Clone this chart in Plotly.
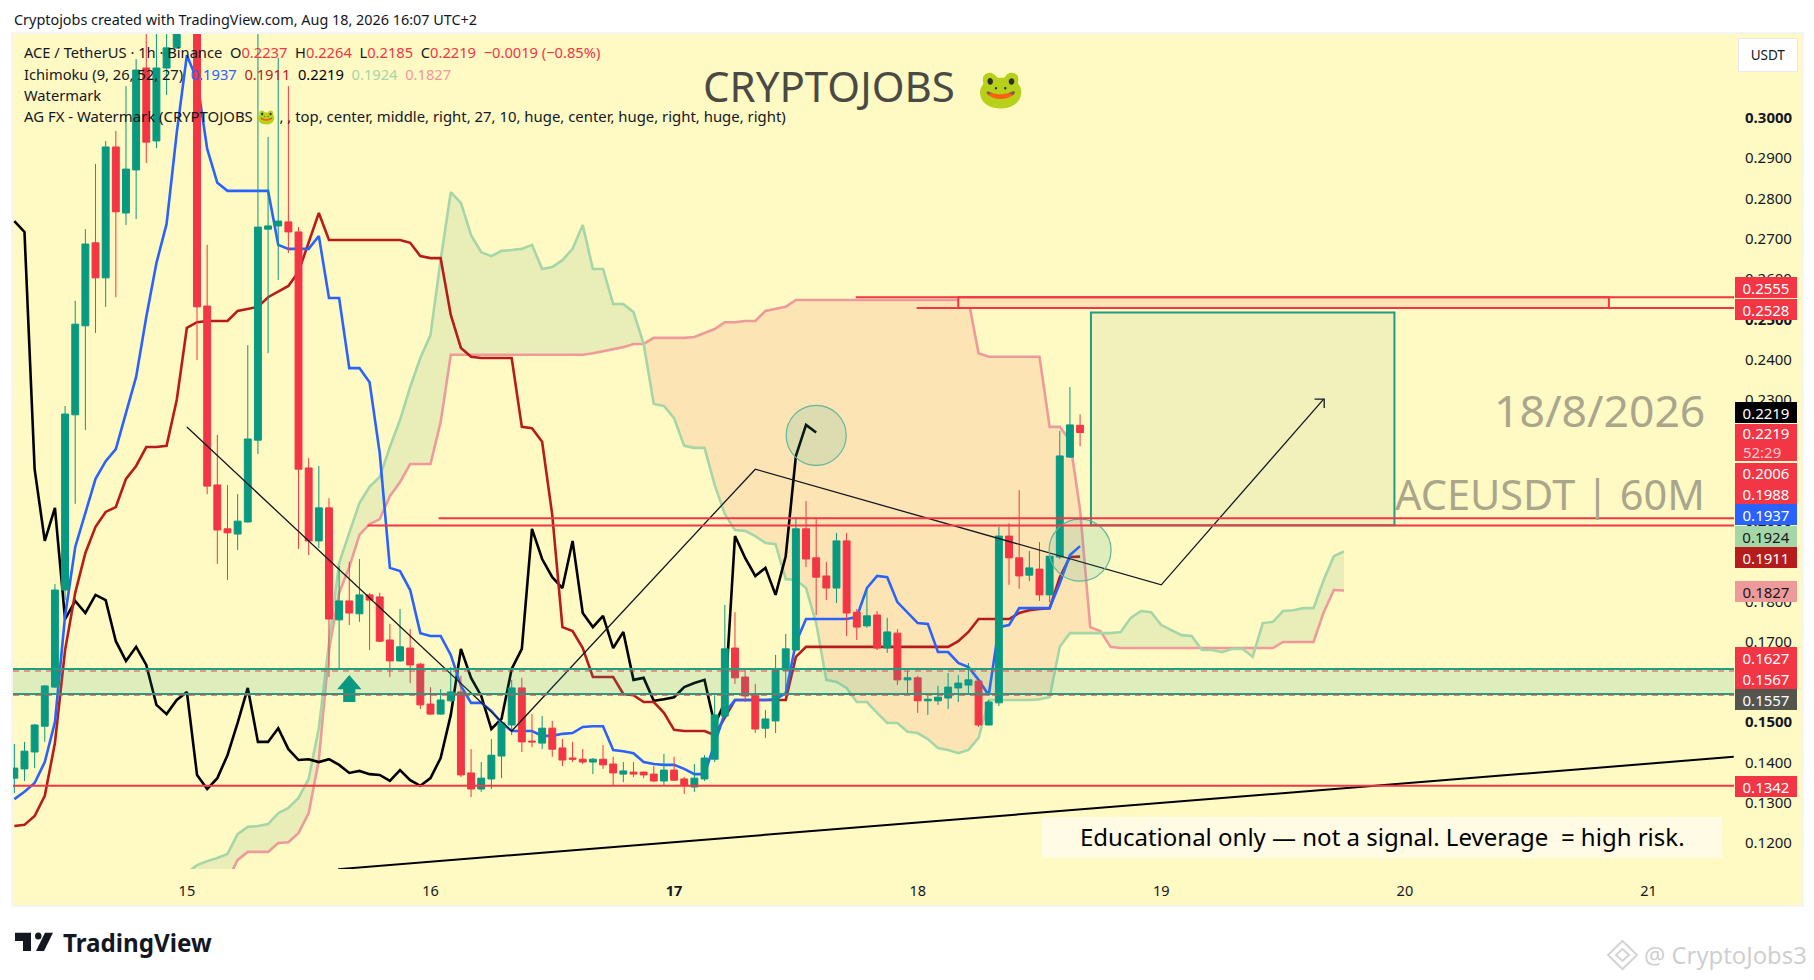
import plotly.graph_objects as go

W, H = 1814, 980

day_ticks = [17, 41, 65, 89, 113, 137, 161]
day_labels = ['15', '16', '<b>17</b>', '18', '19', '20', '21']
price_ticks = [0.12, 0.13, 0.14, 0.15, 0.16, 0.17, 0.18, 0.19, 0.20, 0.21, 0.22, 0.23, 0.24, 0.25, 0.26, 0.27, 0.28, 0.29, 0.30]
price_labels = ['0.1200', '0.1300', '0.1400', '<b>0.1500</b>', '0.1600', '0.1700', '0.1800', '0.1900', '<b>0.2000</b>', '0.2100',
                '0.2200', '0.2300', '0.2400', '<b>0.2500</b>', '0.2600', '0.2700', '0.2800', '0.2900', '<b>0.3000</b>']

opens = [0.1361, 0.1384, 0.1426, 0.1490, 0.1587, 0.1828, 0.2263, 0.2484, 0.2690, 0.2603, 0.2928, 0.2764, 0.2871, 0.3124, 0.2943, 0.3124,
         0.3174, 0.3231, 0.3330, 0.2533, 0.2089, 0.1980, 0.1967, 0.1997, 0.2200, 0.2724, 0.2732, 0.2742, 0.2717, 0.2131, 0.1950, 0.2032,
         0.1754, 0.1801, 0.1769, 0.1816, 0.1811, 0.1704, 0.1652, 0.1684, 0.1644, 0.1545, 0.1520, 0.1553, 0.1575, 0.1374, 0.1334, 0.1359,
         0.1416, 0.1493, 0.1585, 0.1453, 0.1448, 0.1485, 0.1436, 0.1411, 0.1408, 0.1401, 0.1408, 0.1396, 0.1371, 0.1376, 0.1376, 0.1371,
         0.1354, 0.1381, 0.1359, 0.1339, 0.1359, 0.1408, 0.1515, 0.1684, 0.1612, 0.1567, 0.1485, 0.1503, 0.1629, 0.1679, 0.1980, 0.1908,
         0.1863, 0.1833, 0.1950, 0.1773, 0.1739, 0.1766, 0.1684, 0.1721, 0.1605, 0.1610, 0.1553, 0.1553, 0.1560, 0.1585, 0.1592, 0.1602,
         0.1493, 0.1548, 0.1962, 0.1908, 0.1865, 0.1880, 0.1816, 0.1910, 0.2158, 0.2237]
highs = [0.1446, 0.1451, 0.1495, 0.1592, 0.1843, 0.2285, 0.2546, 0.2724, 0.2886, 0.2943, 0.2968, 0.3079, 0.3146, 0.3243, 0.3240, 0.3250,
         0.3260, 0.3360, 0.3350, 0.2685, 0.2213, 0.2089, 0.2066, 0.2436, 0.3300, 0.2953, 0.3149, 0.3079, 0.2729, 0.2156, 0.2136, 0.2056,
         0.1888, 0.1898, 0.1905, 0.1821, 0.1821, 0.1744, 0.1781, 0.1731, 0.1647, 0.1587, 0.1582, 0.1637, 0.1615, 0.1433, 0.1401, 0.1458,
         0.1505, 0.1605, 0.1610, 0.1520, 0.1515, 0.1503, 0.1458, 0.1451, 0.1433, 0.1411, 0.1443, 0.1414, 0.1401, 0.1401, 0.1377, 0.1391,
         0.1421, 0.1414, 0.1364, 0.1396, 0.1418, 0.1567, 0.1791, 0.1773, 0.1629, 0.1595, 0.1530, 0.1667, 0.1719, 0.2009, 0.2049, 0.2004,
         0.1898, 0.1970, 0.1970, 0.1781, 0.1828, 0.1776, 0.1759, 0.1731, 0.1627, 0.1615, 0.1565, 0.1590, 0.1622, 0.1617, 0.1647, 0.1603,
         0.1555, 0.1985, 0.1994, 0.2076, 0.1925, 0.1947, 0.1915, 0.2223, 0.2332, 0.2264]
lows = [0.1324, 0.1354, 0.1386, 0.1451, 0.1585, 0.1803, 0.2042, 0.2225, 0.2466, 0.2531, 0.2555, 0.2734, 0.2749, 0.2888, 0.2925, 0.3057,
        0.3172, 0.3225, 0.2399, 0.2066, 0.1893, 0.1853, 0.1927, 0.1996, 0.2166, 0.2416, 0.2598, 0.2665, 0.1930, 0.1915, 0.1932, 0.1612,
        0.1634, 0.1741, 0.1749, 0.1679, 0.1699, 0.1612, 0.1650, 0.1597, 0.1533, 0.1518, 0.1518, 0.1551, 0.1364, 0.1314, 0.1327, 0.1334,
        0.1361, 0.1468, 0.1426, 0.1438, 0.1433, 0.1414, 0.1391, 0.1401, 0.1396, 0.1371, 0.1384, 0.1344, 0.1351, 0.1364, 0.1361, 0.1351,
        0.1344, 0.1354, 0.1322, 0.1327, 0.1354, 0.1401, 0.1510, 0.1595, 0.1550, 0.1473, 0.1461, 0.1473, 0.1577, 0.1677, 0.1885, 0.1766,
        0.1803, 0.1796, 0.1714, 0.1704, 0.1734, 0.1679, 0.1672, 0.1592, 0.1567, 0.1523, 0.1518, 0.1543, 0.1533, 0.1550, 0.1570, 0.1488,
        0.1492, 0.1540, 0.1841, 0.1831, 0.1850, 0.1801, 0.1798, 0.1905, 0.2156, 0.2185]
closes = [0.1386, 0.1428, 0.1493, 0.1590, 0.1828, 0.2265, 0.2488, 0.2687, 0.2603, 0.2928, 0.2767, 0.2873, 0.3119, 0.2940, 0.3124, 0.3174,
          0.3231, 0.3330, 0.2531, 0.2086, 0.1977, 0.1970, 0.1999, 0.2203, 0.2729, 0.2732, 0.2744, 0.2717, 0.2128, 0.1950, 0.2032, 0.1756,
          0.1801, 0.1771, 0.1816, 0.1803, 0.1701, 0.1652, 0.1687, 0.1642, 0.1543, 0.1520, 0.1555, 0.1575, 0.1369, 0.1334, 0.1361, 0.1418,
          0.1498, 0.1585, 0.1451, 0.1451, 0.1485, 0.1433, 0.1406, 0.1408, 0.1401, 0.1408, 0.1394, 0.1374, 0.1379, 0.1371, 0.1369, 0.1354,
          0.1381, 0.1356, 0.1342, 0.1361, 0.1411, 0.1518, 0.1682, 0.1610, 0.1565, 0.1483, 0.1508, 0.1632, 0.1682, 0.1980, 0.1905, 0.1860,
          0.1833, 0.1950, 0.1771, 0.1736, 0.1764, 0.1684, 0.1724, 0.1605, 0.1610, 0.1553, 0.1557, 0.1562, 0.1587, 0.1597, 0.1605, 0.1493,
          0.1550, 0.1962, 0.1908, 0.1863, 0.1883, 0.1816, 0.1912, 0.2161, 0.2238, 0.2219]

conversion = [0.1309, 0.1327, 0.1349, 0.1401, 0.1500, 0.1764, 0.1935, 0.2019, 0.2104, 0.2148, 0.2178, 0.2268, 0.2357, 0.2506, 0.2640, 0.2737,
              0.2963, 0.3156, 0.3094, 0.2923, 0.2839, 0.2819, 0.2819, 0.2819, 0.2819, 0.2819, 0.2685, 0.2675, 0.2675, 0.2675, 0.2707, 0.2553,
              0.2553, 0.2379, 0.2379, 0.2344, 0.2168, 0.1883, 0.1875, 0.1828, 0.1721, 0.1714, 0.1714, 0.1667, 0.1590, 0.1548, 0.1548, 0.1528,
              0.1498, 0.1478, 0.1478, 0.1478, 0.1466, 0.1466, 0.1471, 0.1473, 0.1488, 0.1490, 0.1490, 0.1431, 0.1428, 0.1423, 0.1401, 0.1396,
              0.1394, 0.1394, 0.1384, 0.1371, 0.1371, 0.1448, 0.1523, 0.1555, 0.1555, 0.1555, 0.1555, 0.1557, 0.1572, 0.1697, 0.1756, 0.1756,
              0.1756, 0.1756, 0.1756, 0.1761, 0.1833, 0.1863, 0.1860, 0.1798, 0.1771, 0.1746, 0.1744, 0.1674, 0.1674, 0.1647, 0.1637, 0.1605,
              0.1567, 0.1736, 0.1741, 0.1783, 0.1783, 0.1783, 0.1783, 0.1845, 0.1915, 0.1937]
base = [0.1242, 0.1245, 0.1267, 0.1317, 0.1448, 0.1679, 0.1821, 0.1920, 0.1985, 0.2022, 0.2034, 0.2104, 0.2136, 0.2183, 0.2183, 0.2186,
        0.2300, 0.2479, 0.2493, 0.2496, 0.2496, 0.2496, 0.2521, 0.2526, 0.2531, 0.2555, 0.2568, 0.2583, 0.2618, 0.2690, 0.2764, 0.2697,
        0.2697, 0.2697, 0.2697, 0.2697, 0.2697, 0.2697, 0.2697, 0.2690, 0.2657, 0.2652, 0.2652, 0.2511, 0.2429, 0.2407, 0.2404, 0.2404,
        0.2404, 0.2404, 0.2233, 0.2230, 0.2196, 0.2014, 0.1736, 0.1726, 0.1684, 0.1612, 0.1612, 0.1612, 0.1570, 0.1567, 0.1550, 0.1550,
        0.1523, 0.1481, 0.1478, 0.1478, 0.1478, 0.1468, 0.1513, 0.1555, 0.1555, 0.1555, 0.1555, 0.1555, 0.1555, 0.1662, 0.1687, 0.1687,
        0.1687, 0.1687, 0.1687, 0.1687, 0.1687, 0.1687, 0.1687, 0.1687, 0.1687, 0.1687, 0.1687, 0.1687, 0.1687, 0.1701, 0.1724, 0.1756,
        0.1756, 0.1756, 0.1756, 0.1771, 0.1778, 0.1781, 0.1783, 0.1860, 0.1910, 0.1911]
lagging = closes[26:]

cloud_start = 17
span_a = [0.1126, 0.1145, 0.1155, 0.1163, 0.1173, 0.1222, 0.1240, 0.1242, 0.1247, 0.1274, 0.1287, 0.1312, 0.1359, 0.1485, 0.1697, 0.1895,
          0.1970, 0.2044, 0.2084, 0.2109, 0.2183, 0.2250, 0.2332, 0.2404, 0.2461, 0.2647, 0.2816, 0.2789, 0.2709, 0.2667, 0.2657, 0.2670,
          0.2672, 0.2675, 0.2685, 0.2625, 0.2630, 0.2647, 0.2675, 0.2734, 0.2625, 0.2625, 0.2538, 0.2538, 0.2518, 0.2439, 0.2290, 0.2285,
          0.2255, 0.2186, 0.2181, 0.2181, 0.2089, 0.2017, 0.1977, 0.1975, 0.1962, 0.1945, 0.1942, 0.1855, 0.1853, 0.1833, 0.1746, 0.1605,
          0.1600, 0.1585, 0.1550, 0.1550, 0.1523, 0.1498, 0.1498, 0.1476, 0.1473, 0.1458, 0.1436, 0.1431, 0.1423, 0.1431, 0.1461, 0.1555,
          0.1555, 0.1555, 0.1555, 0.1555, 0.1557, 0.1562, 0.1687, 0.1721, 0.1721, 0.1721, 0.1721, 0.1721, 0.1724, 0.1759, 0.1776, 0.1773,
          0.1741, 0.1729, 0.1716, 0.1714, 0.1679, 0.1679, 0.1674, 0.1682, 0.1682, 0.1662, 0.1746, 0.1749, 0.1776, 0.1778, 0.1783, 0.1783,
          0.1853, 0.1912, 0.1924]
span_b = [0.1100, 0.1100, 0.1100, 0.1100, 0.1108, 0.1158, 0.1178, 0.1178, 0.1178, 0.1200, 0.1202, 0.1225, 0.1274, 0.1406, 0.1679, 0.1821,
          0.1885, 0.1965, 0.1992, 0.2004, 0.2061, 0.2096, 0.2141, 0.2141, 0.2141, 0.2245, 0.2412, 0.2412, 0.2412, 0.2412, 0.2412, 0.2412,
          0.2412, 0.2412, 0.2412, 0.2412, 0.2412, 0.2412, 0.2412, 0.2412, 0.2416, 0.2421, 0.2426, 0.2431, 0.2439, 0.2439, 0.2454, 0.2454,
          0.2454, 0.2454, 0.2456, 0.2466, 0.2476, 0.2493, 0.2493, 0.2496, 0.2496, 0.2521, 0.2526, 0.2531, 0.2548, 0.2548, 0.2548, 0.2548,
          0.2548, 0.2548, 0.2548, 0.2548, 0.2548, 0.2548, 0.2548, 0.2548, 0.2548, 0.2548, 0.2548, 0.2548, 0.2548, 0.2548, 0.2416, 0.2407,
          0.2407, 0.2407, 0.2407, 0.2407, 0.2407, 0.2233, 0.2233, 0.2200, 0.2027, 0.1736, 0.1726, 0.1687, 0.1684, 0.1684, 0.1684, 0.1684,
          0.1684, 0.1684, 0.1684, 0.1684, 0.1684, 0.1684, 0.1684, 0.1684, 0.1684, 0.1684, 0.1684, 0.1684, 0.1699, 0.1699, 0.1699, 0.1699,
          0.1773, 0.1828, 0.1827]

zigzag_bars = [17, 49, 73, 113, 129]
zigzag_prices = [0.2233, 0.1478, 0.2128, 0.1841, 0.2302]
barb_bars = [128.1, 129.05, 129.05]
barb_prices = [0.2302, 0.2302, 0.2280]
trend_bars = [31.9, 169.4]
trend_prices = [0.1135, 0.1414]

label_texts = ['0.2555', '0.2528', '0.2219', '0.2219<br><span style="color:#ffc9cf">52:29&nbsp;&nbsp;</span>', '0.2006', '0.1988',
               '0.1937', '0.1924', '0.1911', '0.1827', '0.1627', '0.1567', '0.1557', '0.1342']
label_colors = ['#f23645', '#f23645', '#000000', '#f23645', '#f23645', '#f23645',
                '#2962ff', '#a5d6a7', '#b71c1c', '#ef9a9a', '#f23645', '#f23645', '#555550', '#f23645']
label_fonts = ['#fff', '#fff', '#fff', '#fff', '#fff', '#fff', '#fff', '#131722', '#fff', '#131722', '#fff', '#fff', '#fff', '#fff']
label_tops = [277, 299, 402, 424, 463, 483.5, 504, 526, 547, 581, 647, 668, 689, 776]
label_heights = [21, 21, 21, 37, 20.5, 20.5, 21, 21, 21, 21, 21, 21, 21, 21]

bars = list(range(len(closes)))
x_left = (13 - 14.33) / 10.15
x_right = (1734 - 14.33) / 10.15
y_low = 0.12 - 26 / 4028
y_high = 0.12 + 809 / 4028


def X(p):
    return p / W


def Y(p):
    return 1 - p / H


def cloud_parts(xs, a, b):
    # split the cloud where the two spans cross so each part gets its own colour
    parts = []
    cx, ca, cb = [xs[0]], [a[0]], [b[0]]
    for k in range(1, len(xs)):
        d0, d1 = a[k - 1] - b[k - 1], a[k] - b[k]
        if (d0 >= 0 > d1) or (d0 <= 0 < d1):
            t = d0 / (d0 - d1)
            mx = xs[k - 1] + t
            my = a[k - 1] + t * (a[k] - a[k - 1])
            parts.append((cx + [mx], ca + [my], cb + [my]))
            cx, ca, cb = [mx], [my], [my]
        cx.append(xs[k])
        ca.append(a[k])
        cb.append(b[k])
    parts.append((cx, ca, cb))
    return parts


fig = go.Figure()

# scatter always paints over candles on one subplot, so the indicator sits on the
# main axes and the candles plus drawings on an overlay pair with the same ranges
cloud_x = [cloud_start + k for k in range(len(span_a))]
for px, pa, pb in cloud_parts(cloud_x, span_a, span_b):
    fig.add_trace(go.Scatter(x=px + px[::-1], y=pa + pb[::-1], mode='none', fill='toself',
                             fillcolor='#e9eeb9' if sum(pa) >= sum(pb) else '#fde4b4', hoverinfo='skip'))

fig.add_trace(go.Scatter(x=cloud_x, y=span_b, mode='lines', line=dict(color='#ef9a9a', width=2.6)))
fig.add_trace(go.Scatter(x=cloud_x, y=span_a, mode='lines', line=dict(color='#a5d6a7', width=2.6)))
fig.add_trace(go.Scatter(x=bars[:len(lagging)], y=lagging, mode='lines', line=dict(color='#000000', width=2.6)))
fig.add_trace(go.Scatter(x=bars, y=base, mode='lines', line=dict(color='#b71c1c', width=2.6)))
fig.add_trace(go.Scatter(x=bars, y=conversion, mode='lines', line=dict(color='#2962ff', width=2.6)))

fig.add_trace(go.Candlestick(x=bars, open=opens, high=highs, low=lows, close=closes, whiskerwidth=0,
                             xaxis='x2', yaxis='y2',
                             increasing=dict(line=dict(color='#089981', width=1), fillcolor='#089981'),
                             decreasing=dict(line=dict(color='#f23645', width=1), fillcolor='#f23645')))

fig.add_trace(go.Scatter(x=zigzag_bars, y=zigzag_prices, mode='lines', xaxis='x2', yaxis='y2', line=dict(color='#131722', width=1.3)))
fig.add_trace(go.Scatter(x=barb_bars, y=barb_prices, mode='lines', xaxis='x2', yaxis='y2', line=dict(color='#131722', width=1.3)))
fig.add_trace(go.Scatter(x=trend_bars, y=trend_prices, mode='lines', xaxis='x2', yaxis='y2', line=dict(color='#000000', width=2)))

shapes = [
    dict(type='rect', xref='paper', yref='paper', x0=X(12), x1=X(1803), y0=Y(33), y1=Y(906), layer='below',
         fillcolor='#fff9c4', line=dict(color='#f0f3fa', width=1.5)),
    # target box and demand zone
    dict(type='rect', x0=106.07, x1=135.97, y0=0.1989, y1=0.2517, fillcolor='rgba(38,116,63,0.06)',
         line=dict(color='#1f9e82', width=2)),
    dict(type='rect', x0=x_left, x1=x_right, y0=0.1570, y1=0.1632, fillcolor='rgba(38,166,154,0.15)', line=dict(width=0)),
    dict(type='rect', x0=93, x1=157.1, y0=0.2528, y1=0.2555, fillcolor='#fde4b4', line=dict(color='#f23645', width=2)),
    # circles on the chart
    dict(type='circle', x0=76.04, x1=81.96, y0=0.21375, y1=0.22865, fillcolor='rgba(38,166,154,0.15)',
         line=dict(color='#5fb89a', width=1.2)),
    dict(type='circle', x0=101.95, x1=108.05, y0=0.1850, y1=0.2004, fillcolor='rgba(38,166,154,0.15)',
         line=dict(color='#5fb89a', width=1.2)),
    # green up arrow
    dict(type='path', path='M 33 0.1617 L 34.2 0.1582 L 33.6 0.1582 L 33.6 0.1550 L 32.4 0.1550 L 32.4 0.1582 L 31.8 0.1582 Z',
         fillcolor='#089981', line=dict(width=0)),
]
for price in (0.1632, 0.1570):
    shapes.append(dict(type='line', x0=x_left, x1=x_right, y0=price, y1=price, line=dict(color='#1f9e82', width=2)))
for price in (0.1627, 0.1567):
    shapes.append(dict(type='line', x0=x_left, x1=x_right, y0=price, y1=price, line=dict(color='#e0454f', width=1, dash='6px,5px')))
for start, price in ((82.9, 0.2555), (88.9, 0.2528), (41.8, 0.2006), (34.8, 0.1988), (x_left, 0.1342)):
    shapes.append(dict(type='line', x0=start, x1=x_right, y0=price, y1=price, line=dict(color='#f23645', width=2)))

# disclaimer strip, TradingView logo, Binance mark
shapes += [
    dict(type='rect', xref='paper', yref='paper', x0=X(1042), x1=X(1722), y0=Y(817), y1=Y(858), fillcolor='#fffbe4', line=dict(width=0)),
    dict(type='path', xref='paper', yref='paper', fillcolor='#131722', line=dict(width=0),
         path=f'M {X(15)} {Y(932.7)} L {X(31)} {Y(932.7)} L {X(31)} {Y(951)} L {X(23)} {Y(951)} L {X(23)} {Y(941)} L {X(15)} {Y(941)} Z'),
    dict(type='circle', xref='paper', yref='paper', fillcolor='#131722', line=dict(width=0),
         x0=X(35), x1=X(41.5), y0=Y(932.5), y1=Y(939.5)),
    dict(type='path', xref='paper', yref='paper', fillcolor='#131722', line=dict(width=0),
         path=f'M {X(45)} {Y(932.7)} L {X(53)} {Y(932.7)} L {X(44)} {Y(951)} L {X(36)} {Y(951)} Z'),
    dict(type='path', xref='paper', yref='paper', fillcolor='rgba(0,0,0,0)', line=dict(color='#d4d4d4', width=2),
         path=f'M {X(1622.5)} {Y(941)} L {X(1637)} {Y(955)} L {X(1622.5)} {Y(969)} L {X(1608)} {Y(955)} Z'),
    dict(type='path', xref='paper', yref='paper', fillcolor='rgba(0,0,0,0)', line=dict(color='#d4d4d4', width=2),
         path=f'M {X(1622.5)} {Y(949)} L {X(1629)} {Y(955)} L {X(1622.5)} {Y(961)} L {X(1616)} {Y(955)} Z'),
]

FONT = 'Noto Sans'
DARK = '#131722'


def note(text, px, py, size=14.7, color=DARK, anchor='left', **kw):
    return dict(text=text, xref='paper', yref='paper', x=X(px), y=Y(py), xanchor=anchor, yanchor='middle',
                showarrow=False, font=dict(family=FONT, size=size, color=color), **kw)


def span(text, color):
    return f'<span style="color:{color}">{text}</span>'


annotations = [
    note('Cryptojobs created with TradingView.com, Aug 18, 2026 16:07 UTC+2', 12, 19, size=14.4),
    note('ACE / TetherUS · 1h · Binance  O' + span('0.2237', '#f23645') + '  H' + span('0.2264', '#f23645') + '  L' + span('0.2185', '#f23645')
         + '  C' + span('0.2219', '#f23645') + '  ' + span('−0.0019 (−0.85%)', '#f23645'), 22, 52),
    note('Ichimoku (9, 26, 52, 27)  ' + span('0.1937', '#2962ff') + '  ' + span('0.1911', '#b71c1c') + '  ' + span('0.2219', '#000000')
         + '  ' + span('0.1924', '#a5d6a7') + '  ' + span('0.1827', '#ef9a9a'), 22, 74),
    note('Watermark', 22, 95),
    note('AG FX - Watermark (CRYPTOJOBS 🐸 , , top, center, middle, right, 27, 10, huge, center, huge, right, huge, right)', 22, 116, size=14.9),
    note('CRYPTOJOBS', 701, 86, size=42, color='#4a4a44'),
    note('🐸', 1001, 87, size=38, color='#4a4a44', anchor='center'),
    note('18/8/2026', 1707, 409, size=44.5, color='#aaa68c', anchor='right'),
    note('ACEUSDT | 60M', 1707, 494, size=41.5, color='#aaa68c', anchor='right'),
    note('Educational only — not a signal. Leverage  = high risk.', 1078, 836, size=24, color='#000000'),
    note('<b>TradingView</b>', 61, 942, size=24.2, color=DARK),
    note('@ CryptoJobs3', 1642, 955, size=23.8, color='#cfcfcf'),
    note('USDT', 1768, 55, size=13.5, anchor='center', width=58, height=32, bgcolor='#ffffff', bordercolor='#e8eaf0', borderwidth=1, borderpad=0),
]
for text, back, ink, top, tall in zip(label_texts, label_colors, label_fonts, label_tops, label_heights):
    annotations.append(dict(text=text, xref='paper', yref='paper', x=X(1735), y=Y(top), xanchor='left', yanchor='top',
                            showarrow=False, width=62, height=tall, bgcolor=back, borderpad=0, borderwidth=0,
                            font=dict(family=FONT, size=15, color=ink)))

fig.update_layout(
    width=W, height=H, autosize=False, margin=dict(l=0, r=0, t=0, b=0), showlegend=False,
    paper_bgcolor='#ffffff', plot_bgcolor='#fff9c4', boxgap=0.2, boxgroupgap=0.15,
    shapes=shapes, annotations=annotations,
    xaxis=dict(domain=[X(13), X(1734)], range=[x_left, x_right], showgrid=False, zeroline=False, showline=False,
               tickmode='array', tickvals=day_ticks, ticktext=day_labels,
               ticks='outside', ticklen=9, tickcolor='rgba(0,0,0,0)', tickfont=dict(family=FONT, size=14.5, color=DARK)),
    yaxis=dict(domain=[Y(869), Y(34)], range=[y_low, y_high], side='right', showgrid=False, zeroline=False, showline=False,
               tickmode='array', tickvals=price_ticks, ticktext=price_labels,
               ticks='outside', ticklen=7, tickcolor='rgba(0,0,0,0)', tickfont=dict(family=FONT, size=15, color=DARK)),
    xaxis2=dict(overlaying='x', anchor='y2', range=[x_left, x_right], visible=False, rangeslider=dict(visible=False)),
    yaxis2=dict(overlaying='y', anchor='x2', range=[y_low, y_high], side='right', visible=False),
)

fig.write_html("out.html", config={'displayModeBar': False},
               post_script="document.body.style.margin='0';document.body.style.overflow='hidden';")
